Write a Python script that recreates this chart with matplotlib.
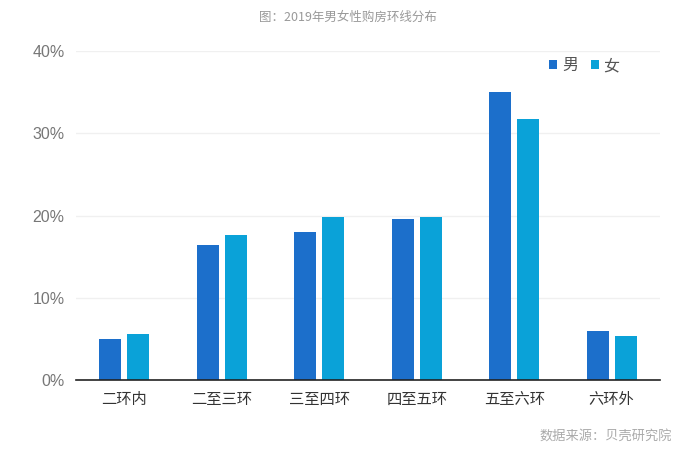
import numpy as np
import matplotlib.pyplot as plt

plt.rcParams['font.family'] = ['Noto Sans CJK SC', 'DejaVu Sans']

categories = ["二环内", "二至三环", "三至四环", "四至五环", "五至六环", "六环外"]
male = [5.0, 16.4, 18.0, 19.6, 35.0, 6.0]
female = [5.6, 17.6, 19.8, 19.8, 31.7, 5.3]
yticks = [0, 10, 20, 30, 40]

fig = plt.figure(figsize=(6.95, 4.59), dpi=100)
ax = fig.add_axes([0.109, 0.172, 0.841, 0.717])

x = np.arange(len(categories))
w = 0.226
ax.bar(x - 0.144, male, w, color="#1c6fcb", label="男")
ax.bar(x + 0.144, female, w, color="#0aa2d8", label="女")

ax.set_xlim(-0.5, len(categories) - 0.5)
ax.set_ylim(0, 40)
ax.set_yticks(yticks)
ax.set_yticklabels([f"{v}%" for v in yticks], color="#777777", fontsize=11.5,
                   family="Liberation Sans")
ax.set_xticks(x)
ax.set_xticklabels(categories, fontsize=11, color="#333333")
ax.tick_params(axis="both", length=0, pad=8)
ax.yaxis.grid(True, color="#f0f0f0", linewidth=1)
ax.set_axisbelow(True)
for s in ["top", "right", "left"]:
    ax.spines[s].set_visible(False)
ax.spines["bottom"].set_color("#222222")
ax.spines["bottom"].set_linewidth(1.2)

ax.legend(loc="upper right", bbox_to_anchor=(0.955, 1.025), ncol=2, frameon=False,
          fontsize=11.5, handlelength=0.5, handleheight=0.5, handletextpad=0.3,
          columnspacing=0.8, labelcolor="#555555")

fig.text(0.5, 0.963, "图：2019年男女性购房环线分布", ha="center", va="center",
         fontsize=9, color="#999999")
fig.text(0.967, 0.048, "数据来源：贝壳研究院", ha="right", va="center",
         fontsize=9.5, color="#aaaaaa")

fig.savefig("out.png", dpi=100)
